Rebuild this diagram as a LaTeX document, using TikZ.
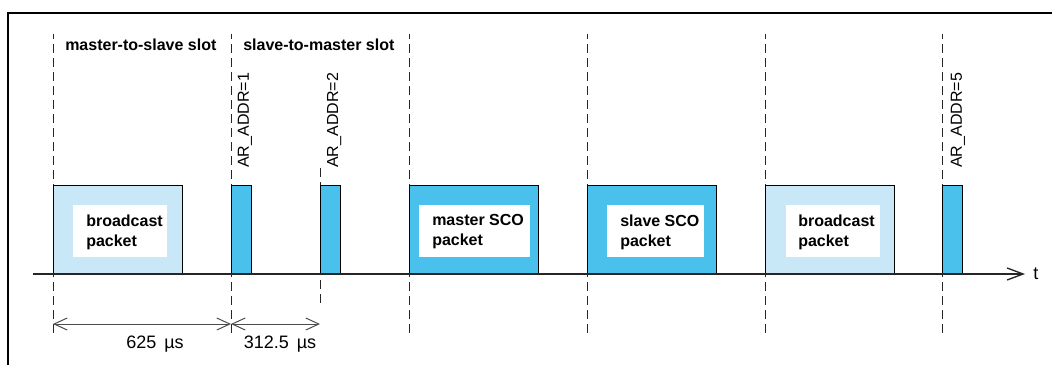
\documentclass[tikz,border=0pt]{standalone}
\usepackage{fontspec}
\setmainfont{Liberation Sans}
\usetikzlibrary{positioning,calc,arrows.meta}
\definecolor{pktlight}{RGB}{200,232,248}
\definecolor{pktdark}{RGB}{74,193,237}
\tikzset{
  slotline/.style={black!85,line width=0.6pt,dash pattern=on 7pt off 3.5pt},
  pktbox/.style={draw=black,line width=0.6pt},
  pkttext/.style={font=\fontsize{12}{15}\selectfont\bfseries,align=left,anchor=west,inner sep=0pt},
  slottext/.style={font=\fontsize{12}{14}\selectfont\bfseries,anchor=west,inner sep=0pt},
  addrtext/.style={font=\fontsize{12}{14}\selectfont,rotate=90,anchor=west,inner sep=0pt},
  dimtext/.style={font=\fontsize{13.5}{16}\selectfont,inner sep=0pt},
  dimarrow/.style={black!70,line width=0.75pt,arrows={Straight Barb[length=9.75pt,width=9pt]-Straight Barb[length=9.75pt,width=9pt]}},
  timeaxis/.style={black!85,line width=1pt,arrows={-Straight Barb[length=12pt,width=9pt]}}
}

\begin{document}
\begin{tikzpicture}[x=0.75pt,y=0.75pt]
\useasboundingbox (0,0) rectangle (1052,365);
% frame (top and left edge only)
\draw[line width=2pt] (8,0) -- (8,352) -- (1052,352);
% slot borders, 625 us apart
\foreach \sx in {53,231,409,587,765,942}{
  \draw[slotline] (\sx,32) -- (\sx,331);
}
\draw[slotline] (320,62) -- (320,200);
% packets on the time axis
\foreach \xa/\xb/\col in {53/182/pktlight, 231/251/pktdark, 320/340/pktdark,
  409/538/pktdark, 587/716/pktdark, 765/894/pktlight, 942/962/pktdark}{
  \draw[pktbox,fill=\col] (\xa,91) rectangle (\xb,180);
}
\foreach \xa/\xb in {73/167, 419/530, 607/704, 786/880}{
  \fill[white] (\xa,108) rectangle (\xb,160);
}
\node[pkttext] (bcastA) at (86,133) {broadcast\\packet};
\node[pkttext] (mastersco) at (432,133) {master SCO\\packet};
\node[pkttext] (slavesco) at (620,133) {slave SCO\\packet};
\node[pkttext] (bcastB) at (798,133) {broadcast\\packet};
% slot names and access addresses
\node[slottext] (mslot) at (65,320) {master-to-slave slot};
\node[slottext] (sslot) at (243,320) {slave-to-master slot};
\node[addrtext] (addr1) at (245,197) {AR\_ADDR=1};
\node[addrtext] (addr2) at (334,197) {AR\_ADDR=2};
\node[addrtext] (addr5) at (958,197) {AR\_ADDR=5};
% time axis
\coordinate (ax0) at (33,91);
\coordinate (ax1) at (1025,91);
\draw[timeaxis] (ax0) -- (ax1);
\node[dimtext,anchor=west] (tlab) at (1033,91) {t};
% slot lengths
\coordinate (d0) at (53,41);
\coordinate (d1) at (231,41);
\coordinate (d2) at (320,41);
\draw[dimarrow] (d0) -- (d1);
\draw[dimarrow] (d1) -- (d2);
\node[dimtext] (len625) at (155,21) {625\,\ µs};
\node[dimtext] (len312) at (280,21) {312.5\,\ µs};
\end{tikzpicture}
\end{document}
